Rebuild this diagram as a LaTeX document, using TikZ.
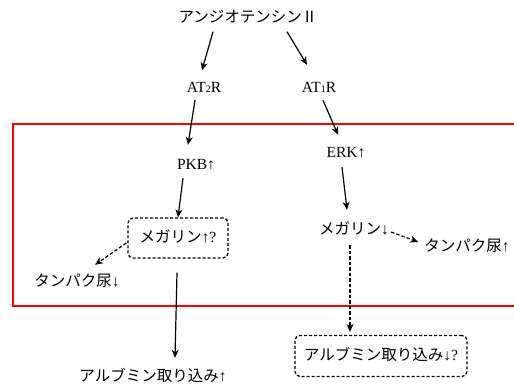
\documentclass[tikz,border=0pt]{standalone}
\usepackage{fontspec}
\setmainfont{Liberation Serif}
\newfontfamily\jp{Noto Sans CJK JP}
\usetikzlibrary{arrows.meta}
\begin{document}
\begin{tikzpicture}[x=1pt,y=-1pt,
  lbl/.style={inner sep=2pt,text height=12pt,text depth=3pt,font=\fontsize{15.5}{18}\selectfont},
  dbox/.style={lbl,draw,dashed,line width=1.3pt,dash pattern=on 3pt off 2pt,rounded corners=5pt,minimum height=40pt},
  arr/.style={line width=1.2pt,-{Stealth[length=8pt,width=7pt,inset=2.5pt]}},
  darr/.style={arr,dash pattern=on 3.5pt off 2pt},
  redframe/.style={draw=red,line width=1.6pt}]
\useasboundingbox (0,0) rectangle (514,390);
\draw[redframe] (514,124) -- (13,124) -- (13,306) -- (514,306);

\node[lbl] (ang) at (248,18) {{\jp アンジオテンシンⅡ}};
\node[lbl] (at2) at (204,88) {AT{\fontsize{10}{10}\selectfont 2}R};
\node[lbl] (at1) at (319,88) {AT{\fontsize{10}{10}\selectfont 1}R};
\node[lbl] (pkb) at (196,165) {PKB↑};
\node[lbl] (erk) at (346,153) {ERK↑};
\node[dbox,minimum width=100pt] (meg1) at (178,238) {{\jp メガリン}↑?};
\node[lbl] (meg2) at (354,230) {{\jp メガリン}↓};
\node[lbl] (prot1) at (77,282) {{\jp タンパク尿}↓};
\node[lbl] (prot2) at (467,247) {{\jp タンパク尿}↑};
\node[lbl] (alb1) at (153,377) {{\jp アルブミン取り込み}↑};
\node[dbox,minimum width=172pt,minimum height=41pt] (alb2) at (381,356) {{\jp アルブミン取り込み}↓?};

\draw[arr] ([shift={(-35,4)}]ang.south) -- ([shift={(-2,-8)}]at2.north);
\draw[arr] ([shift={(39,4)}]ang.south) -- ([shift={(-12,-13.5)}]at1.north);
\draw[arr] ([shift={(-9,2.5)}]at2.south) -- ([shift={(-8,-10.5)}]pkb.north);
\draw[arr] ([shift={(4,2.5)}]at1.south) -- ([shift={(-8,-8.5)}]erk.north);
\draw[arr] ([shift={(-13,3.5)}]pkb.south) -- (meg1.north);
\draw[arr] ([shift={(-4,4.5)}]erk.south) -- ([shift={(-7,-10.5)}]meg2.north);
\draw[darr] ([shift={(-1,5)}]meg1.west) -- ([shift={(18,-7.5)}]prot1.north);
\draw[darr] ([shift={(0,2)}]meg2.east) -- ([shift={(-4,-5)}]prot2.west);
\draw[arr] ([shift={(-1,14)}]meg1.south) -- ([shift={(22,-9.5)}]alb1.north);
\draw[darr] ([shift={(-4,5.5)}]meg2.south) -- ([shift={(-31,-3)}]alb2.north);
\end{tikzpicture}
\end{document}
